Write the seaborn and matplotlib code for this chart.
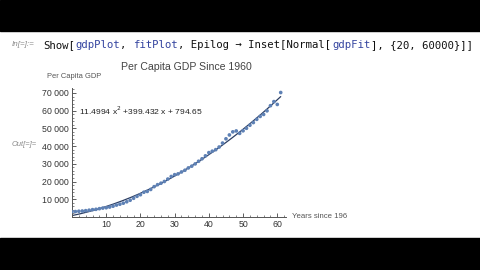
import numpy as np
import pandas as pd
import matplotlib
matplotlib.use("Agg")
import matplotlib.pyplot as plt
import seaborn as sns
from matplotlib.patches import Rectangle
from matplotlib.ticker import MultipleLocator, FixedLocator, FuncFormatter

# ---- data ----
years_since = list(range(0, 62))
gdp_per_capita = [3007, 3067, 3244, 3375, 3574, 3828, 4146, 4336, 4696, 5032,
                  5234, 5609, 6094, 6726, 7226, 7801, 8592, 9453, 10565, 11674,
                  12575, 13976, 14434, 15544, 17121, 18237, 19071, 20039, 21417, 22857,
                  23889, 24342, 25419, 26387, 27695, 28691, 29968, 31459, 32854, 34515,
                  36330, 37134, 37998, 39490, 41725, 44123, 46302, 48050, 48570, 47195,
                  48651, 50066, 51784, 53291, 55124, 56763, 57867, 59915, 62805, 65120,
                  63528, 70249]
fit_coeffs = [11.4994, 399.432, 794.65]  # a x^2 + b x + c
fit_range = (0, 61)
x_ticks = [10, 20, 30, 40, 50, 60]
y_ticks = [10000, 20000, 30000, 40000, 50000, 60000, 70000]
title = "Per Capita GDP Since 1960"
y_label = "Per Capita GDP"
x_label = "Years since 1960"
eq_text = "11.4994 x$^2$ +399.432 x + 794.65"
eq_pos = (20, 60000)

df = pd.DataFrame({"x": years_since, "y": gdp_per_capita})
xf = np.linspace(fit_range[0], fit_range[1], 200)
fit_df = pd.DataFrame({"x": xf, "y": np.polyval(fit_coeffs, xf)})

sns.set_theme(style="white")
plt.rcParams["font.family"] = ["Liberation Sans", "DejaVu Sans"]

W, H = 480, 270
fig = plt.figure(figsize=(4.8, 2.7), dpi=100)
fig.patch.set_facecolor("white")

# black bars
fig.patches.append(Rectangle((0, 1 - 31 / H), 1, 31 / H, transform=fig.transFigure,
                             color="black", zorder=0))
fig.patches.append(Rectangle((0, 0), 1, 32 / H, transform=fig.transFigure,
                             color="black", zorder=0))

ax = fig.add_axes([72 / W, 53 / H, 213.5 / W, 129 / H])
ax.set_facecolor("none")

sns.lineplot(data=fit_df, x="x", y="y", ax=ax, color="#2c3e63", lw=0.9, zorder=2)
sns.scatterplot(data=df, x="x", y="y", ax=ax, color="#5E81B5", s=7, edgecolor="none",
                zorder=3)

ax.set_xlim(0, 62.4)
ax.set_ylim(0, 72800)
ax.set_xlabel("")
ax.set_ylabel("")

for s in ["top", "right"]:
    ax.spines[s].set_visible(False)
for s in ["left", "bottom"]:
    ax.spines[s].set_color("#555555")
    ax.spines[s].set_linewidth(0.7)

ax.xaxis.set_major_locator(FixedLocator(x_ticks))
ax.xaxis.set_minor_locator(MultipleLocator(2))
ax.yaxis.set_major_locator(FixedLocator(y_ticks))
ax.yaxis.set_minor_locator(MultipleLocator(2000))
ax.yaxis.set_major_formatter(FuncFormatter(lambda v, p: f"{int(v):,}".replace(",", " ")))
ax.tick_params(axis="both", which="major", direction="in", length=3, width=0.6,
               color="#444444", labelsize=6.3, labelcolor="#333333", pad=2.5)
ax.tick_params(axis="both", which="minor", direction="in", length=1.6, width=0.5,
               color="#555555")
ax.tick_params(axis="x", bottom=True, which="both")
ax.tick_params(axis="y", left=True, which="both")

ax.text(eq_pos[0], eq_pos[1], eq_text, ha="center", va="center", fontsize=6.1,
        color="#222222")

# titles / labels
fig.text(186 / W, 1 - 67 / H, title, ha="center", va="center", fontsize=7.6,
         color="#444444")
fig.text(47 / W, 1 - 76.5 / H, y_label, ha="left", va="center", fontsize=5.4,
         color="#555555")
xl = fig.text(292 / W, 1 - 217 / H, x_label, ha="left", va="center", fontsize=5.6,
              color="#555555", clip_on=True)
clip = Rectangle((0, 0), 347 / W, 1, transform=fig.transFigure, fill=False)
xl.set_clip_path(clip)

# notebook labels
fig.text(12 / W, 1 - 45 / H, "In[=]:=", ha="left", va="center", fontsize=5.8,
         color="#888888", style="italic")
fig.text(12 / W, 1 - 145 / H, "Out[=]=", ha="left", va="center", fontsize=5.4,
         color="#888888", style="italic")

# code line
code_parts = [("Show[", "#111111"), ("gdpPlot", "#3545a0"), (", ", "#111111"),
              ("fitPlot", "#3545a0"), (", Epilog \u2192 Inset[Normal[", "#111111"),
              ("gdpFit", "#3545a0"), ("], {20, 60000}]]", "#111111")]
fs_code = 7.7
char_w = 0.602 * fs_code * 100 / 72 / W
x0 = 43 / W
for txt, col in code_parts:
    fig.text(x0, 1 - 45 / H, txt, ha="left", va="center", fontsize=fs_code,
             color=col, family="DejaVu Sans Mono")
    x0 += len(txt) * char_w

fig.savefig("out.png", dpi=100, facecolor="white")
